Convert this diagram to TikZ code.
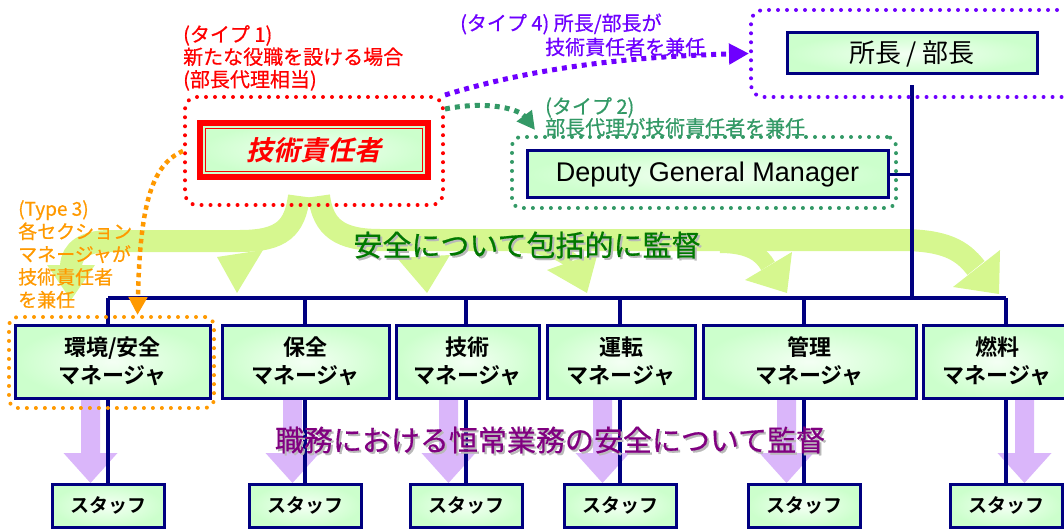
\documentclass[tikz,border=0pt]{standalone}
\usepackage{fontspec}
\setmainfont{Liberation Sans}
\newfontfamily\jp{Noto Sans CJK JP}[BoldFont={Noto Sans CJK JP Bold}]
\newfontfamily\jplabel{Noto Sans CJK JP}[FakeBold=0.6]
\newfontfamily\jpslant{Noto Sans CJK JP Bold}[FakeSlant=0.22]
\usetikzlibrary{arrows.meta}

\definecolor{orgnavy}{RGB}{0,0,128}
\definecolor{boxgreen}{RGB}{204,255,204}
\definecolor{boxglow}{RGB}{244,255,244}
\definecolor{bandgreen}{RGB}{214,247,143}
\definecolor{dutyviolet}{RGB}{218,182,250}
\definecolor{typeone}{RGB}{255,0,0}
\definecolor{typetwo}{RGB}{51,153,102}
\definecolor{typethree}{RGB}{255,153,0}
\definecolor{typefour}{RGB}{110,0,255}
\definecolor{overallgreen}{RGB}{0,120,0}
\definecolor{dutypurple}{RGB}{128,0,128}

\pgfdeclarelayer{back}
\pgfsetlayers{back,main}

\tikzset{
  orgbox/.style={draw=orgnavy, line width=3pt, inner color=boxglow, outer color=boxgreen, inner sep=0pt, align=center},
  mgrbox/.style={orgbox, minimum height=73pt, font=\jp\bfseries\fontsize{22}{28}\selectfont},
  staffbox/.style={orgbox, minimum width=112pt, minimum height=43pt, font=\jp\bfseries\fontsize{19}{20}\selectfont},
  orgline/.style={draw=orgnavy, line width=3.5pt},
  dotframe/.style={line width=4pt, dash pattern=on 0pt off 9pt, line cap=round, rounded corners=12pt, inner sep=0pt},
  dotarrow/.style={line width=5pt, dash pattern=on 5pt off 5pt},
  labeltext/.style={inner sep=0pt, align=left, font=\jplabel\fontsize{20}{22.5}\selectfont},
  bigtext/.style={font=\jplabel\fontsize{29}{31}\selectfont},
  band/.style={draw=bandgreen, line width=22pt},
}

\begin{document}
\begin{tikzpicture}[x=1pt, y=-1pt]
    \useasboundingbox (0,0) rectangle (1064,529);

    \begin{pgfonlayer}{back}
    % overall supervision band
    \draw [band] (299,196) .. controls (295,228) and (282,241) .. (240,241) -- (110,241) .. controls (85,241) and (72,250) .. (71,266);
    \draw [band] (319,196) .. controls (323,228) and (340,240) .. (380,240) -- (900,240) .. controls (945,240) and (962,250) .. (976,268);
    \draw [band, line width=16pt] (520,245) .. controls (545,245) and (560,252) .. (572,261);
    \draw [band, line width=16pt] (720,245) .. controls (750,245) and (762,255) .. (768,266);
    \fill [bandgreen] (47,265) -- (95,265) -- (71,300) -- cycle;
    \fill [bandgreen] (217,257) -- (263,250) -- (237,293) -- cycle;
    \fill [bandgreen] (397,258) -- (450,255) -- (427,293) -- cycle;
    \fill [bandgreen] (547,270) -- (598,252) -- (587,293) -- cycle;
    \fill [bandgreen] (745,280) -- (792,252) -- (787,293) -- cycle;
    \fill [bandgreen] (953,287) -- (1000,250) -- (999,294) -- cycle;
    % routine duty arrows
    \fill [dutyviolet] (81,398) -- ++(19,0) -- ++(0,55) -- ++(17.5,0) -- ++(-27,30) -- ++(-27,-30) -- ++(17.5,0) -- cycle;
    \fill [dutyviolet] (283,398) -- ++(19,0) -- ++(0,55) -- ++(17.5,0) -- ++(-27,30) -- ++(-27,-30) -- ++(17.5,0) -- cycle;
    \fill [dutyviolet] (439,398) -- ++(19,0) -- ++(0,55) -- ++(17.5,0) -- ++(-27,30) -- ++(-27,-30) -- ++(17.5,0) -- cycle;
    \fill [dutyviolet] (593,398) -- ++(19,0) -- ++(0,55) -- ++(17.5,0) -- ++(-27,30) -- ++(-27,-30) -- ++(17.5,0) -- cycle;
    \fill [dutyviolet] (777,398) -- ++(19,0) -- ++(0,55) -- ++(17.5,0) -- ++(-27,30) -- ++(-27,-30) -- ++(17.5,0) -- cycle;
    \fill [dutyviolet] (1015,398) -- ++(19,0) -- ++(0,55) -- ++(17.5,0) -- ++(-27,30) -- ++(-27,-30) -- ++(17.5,0) -- cycle;
    \end{pgfonlayer}

    % top of the organisation
    \node [orgbox, minimum width=250pt, minimum height=41pt, font=\jp\fontsize{26}{28}\selectfont] (chief) at (912,53.5) {所長 / 部長};
    \node [orgbox, minimum width=361pt, minimum height=47pt, font=\fontsize{27}{28}\selectfont] (dgm) at (707.5,174.5) {Deputy General Manager};
    % chief engineer
    \node [orgbox, draw=red, line width=5.5pt, minimum width=228pt, minimum height=54pt, font=\jpslant\fontsize{27}{30}\selectfont, text=red] (tech) at (314,150) {技術責任者};
    \draw [red, line width=1.3pt] ([xshift=8pt,yshift=-8pt]tech.north west) rectangle ([xshift=-8pt,yshift=8pt]tech.south east);

    % section managers
    \node [mgrbox, minimum width=195pt] (m1) at (112.5,361.5) {環境/安全\\マネージャ};
    \node [mgrbox, minimum width=167pt] (m2) at (305.5,361.5) {保全\\マネージャ};
    \node [mgrbox, minimum width=143pt] (m3) at (467.5,361.5) {技術\\マネージャ};
    \node [mgrbox, minimum width=148pt] (m4) at (621,361.5) {運転\\マネージャ};
    \node [mgrbox, minimum width=213pt] (m5) at (809.5,361.5) {管理\\マネージャ};
    \node [mgrbox, minimum width=148pt] (m6) at (997,361.5) {燃料\\マネージャ};
    % staff
    \node [staffbox] (s1) at (108,505.5) {スタッフ};
    \node [staffbox] (s2) at (305,505.5) {スタッフ};
    \node [staffbox] (s3) at (466,505.5) {スタッフ};
    \node [staffbox] (s4) at (620,505.5) {スタッフ};
    \node [staffbox] (s5) at (804,505.5) {スタッフ};
    \node [staffbox] (s6) at (1006,505.5) {スタッフ};
    \coordinate (bus) at (0,298);

    % connectors
    \begin{pgfonlayer}{back}
    \draw [orgline, shorten <=10pt] (chief.south) -- (chief.south |- bus);
    \draw [orgline] (dgm.east) -- (dgm.east -| chief.south);
    \draw [orgline] (s1 |- bus) -- (s6 |- bus);
    \draw [orgline] (s1 |- bus) -- (s1.north);
    \draw [orgline] (s2 |- bus) -- (s2.north);
    \draw [orgline] (s3 |- bus) -- (s3.north);
    \draw [orgline] (s4 |- bus) -- (s4.north);
    \draw [orgline] (s5 |- bus) -- (s5.north);
    \draw [orgline] (s6 |- bus) -- (s6.north);
    \end{pgfonlayer}

    % dotted frames of the four types
    \node [dotframe, draw=typeone, minimum width=258pt, minimum height=108pt] (opt1) at (314,151) {};
    \node [dotframe, draw=typetwo, rounded corners=9pt, minimum width=384pt, minimum height=71pt] (opt2) at (704,172.5) {};
    \node [dotframe, draw=typethree, rounded corners=9pt, minimum width=205pt, minimum height=91pt] (opt3) at (111.5,362.5) {};
    \node [dotframe, draw=typefour, minimum width=345pt, minimum height=87pt] (opt4) at (923.5,53.5) {};

    % type labels
    \node [labeltext, anchor=north west, text=typeone] (type1) at (183,25) {(タイプ 1)\\新たな役職を設ける場合\\(部長代理相当)};
    \node [labeltext, anchor=north west, text=typetwo, font=\jplabel\fontsize{20}{21}\selectfont] (type2) at (545,97) {(タイプ 2)\\部長代理が技術責任者を兼任};
    \node [labeltext, anchor=north west, text=typethree, font=\jplabel\fontsize{19}{22.8}\selectfont] (type3) at (18,200) {(Type 3)\\各セクション\\マネージャが\\技術責任者\\を兼任};
    \node [labeltext, anchor=west, text=typefour] (type4a) at (460,24) {(タイプ 4) 所長/部長が};
    \node [labeltext, anchor=west, text=typefour] (type4b) at (545,47) {技術責任者を兼任};

    % dotted arrows
    \draw [dotarrow, draw=typefour, -{Triangle[length=20pt,width=20pt]}] (opt1.north east) .. controls (520,72) and (610,57) .. (opt4.west);
    \draw [dotarrow, draw=typetwo, -{Triangle[length=18pt,width=18pt]}] ([yshift=-14pt]opt1.north east) .. controls (490,100) and (520,110) .. ([xshift=25pt,yshift=5pt]opt2.north west);
    \draw [dotarrow, draw=typethree, line width=4.5pt, dash pattern=on 4.5pt off 4pt, -{Triangle[length=18pt,width=18pt]}] (opt1.west) .. controls (150,165) and (140,210) .. ([xshift=26pt]opt3.north);

    % supervision texts
    \node [bigtext, text=gray!55] (overallshadow) at (529,247) {安全について包括的に監督};
    \node [bigtext, text=overallgreen] (overall) at (527,245) {安全について包括的に監督};
    \node [bigtext, text=gray!55] (dutyshadow) at (552,442) {職務における恒常業務の安全について監督};
    \node [bigtext, text=dutypurple] (duty) at (550,440) {職務における恒常業務の安全について監督};

\end{tikzpicture}
\end{document}
